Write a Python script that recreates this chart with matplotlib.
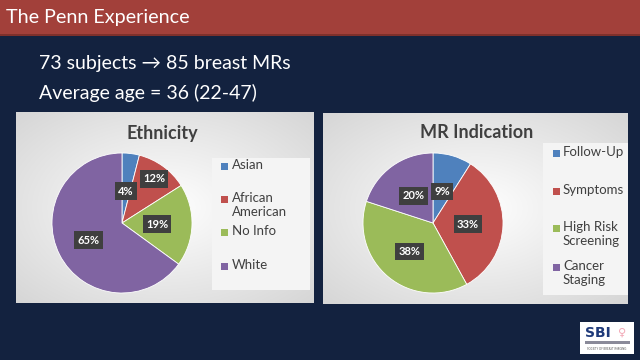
import numpy as np
import matplotlib
matplotlib.use("Agg")
import matplotlib.pyplot as plt
from matplotlib.patches import Rectangle

# ---- data ----
slide_title = "The Penn Experience"
bullet_lines = ["73 subjects \u2192 85 breast MRs", "Average age = 36 (22-47)"]

eth_title = "Ethnicity"
eth_labels = ["Asian", "African\nAmerican", "No Info", "White"]
eth_values = [4, 12, 19, 65]

mr_title = "MR Indication"
mr_labels = ["Follow-Up", "Symptoms", "High Risk\nScreening", "Cancer\nStaging"]
mr_values = [9, 33, 38, 20]

colors = ["#4F81BD", "#C0504D", "#9BBB59", "#8064A2"]
eth_label_dist = [0.46, 0.78, 0.5, 0.54]
mr_label_dist = [0.47, 0.5, 0.53, 0.48]

W, H = 640, 360
FONT = ["Lato", "DejaVu Sans"]
plt.rcParams["font.family"] = FONT

fig = plt.figure(figsize=(6.4, 3.6), dpi=100)
fig.patch.set_facecolor("#13223F")

bg = fig.add_axes([0, 0, 1, 1])
bg.set_xlim(0, W)
bg.set_ylim(H, 0)
bg.axis("off")

# header bar
bg.add_patch(Rectangle((0, 0), W, 35, facecolor="#A2403A", edgecolor="none"))
bg.add_patch(Rectangle((0, 34), W, 1.5, facecolor="#7E302B", edgecolor="none"))
bg.text(6, 18, slide_title, color="white", fontsize=14.2, va="center", ha="left")

bg.text(39, 63, bullet_lines[0], color="white", fontsize=14, va="center", ha="left")
bg.text(39, 93, bullet_lines[1], color="white", fontsize=14, va="center", ha="left")

# panel gradients
def panel(x0, y0, x1, y1):
    ny, nx = 60, 100
    yy, xx = np.mgrid[-1:1:ny*1j, -1:1:nx*1j]
    r = np.sqrt(xx**2 + yy**2) / np.sqrt(2)
    v = 1.0 - 0.16 * r
    img = np.dstack([v, v, v])
    bg.imshow(img, extent=(x0, x1, y1, y0), aspect="auto", zorder=1, interpolation="bilinear")

panel(16, 112, 314, 303)
panel(323, 113, 628, 304)
bg.set_xlim(0, W)
bg.set_ylim(H, 0)

# legend boxes
bg.add_patch(Rectangle((212, 158), 98, 132, facecolor="#F4F4F4", edgecolor="none", zorder=2))
bg.add_patch(Rectangle((543, 143), 85, 152, facecolor="#F4F4F4", edgecolor="none", zorder=2))

def draw_pie(cx, cy, r, values, dists, title, tx, ty):
    ax = fig.add_axes([(cx - r) / W, (H - cy - r) / H, 2 * r / W, 2 * r / H])
    ax.pie(values, colors=colors, startangle=90, counterclock=False,
           wedgeprops=dict(linewidth=0.6, edgecolor="white"))
    ax.set_xlim(-1, 1)
    ax.set_ylim(-1, 1)
    ax.set_aspect("equal")
    ax.axis("off")
    total = sum(values)
    start = 90.0
    for v, d in zip(values, dists):
        mid = np.deg2rad(start - v / total * 180.0)
        start -= v / total * 360.0
        ax.text(d * np.cos(mid), d * np.sin(mid), f"{v}%", color="white", fontsize=8,
                fontweight="bold", ha="center", va="center",
                bbox=dict(boxstyle="square,pad=0.3", facecolor="#3F3F3F", edgecolor="none"))
    bg.text(tx, ty, title, fontsize=13, fontweight="bold", color="#404040",
            ha="center", va="center", zorder=3)

draw_pie(122, 223, 70, eth_values, eth_label_dist, eth_title, 162, 133)
draw_pie(433, 223, 70, mr_values, mr_label_dist, mr_title, 477, 133)

def legend(xsq, xt, ys, labels):
    for y, lab, c in zip(ys, labels, colors):
        bg.add_patch(Rectangle((xsq - 3.5, y - 3.5), 7, 7, facecolor=c, edgecolor="none", zorder=3))
        bg.text(xt, y - 7, lab, fontsize=9.5, color="#404040", ha="left", va="top",
                linespacing=1.2, zorder=3)

legend(224, 232, [166, 199, 232, 266], eth_labels)
legend(556, 563, [153, 191, 228, 267], mr_labels)

# SBI logo
bg.add_patch(Rectangle((580, 322), 54, 32, facecolor="white", edgecolor="none", zorder=3))
bg.text(598, 333, "SBI", fontsize=10, fontweight="bold", color="#1F3A7A", ha="center", va="center",
        zorder=4, family=["DejaVu Sans"])
bg.text(622, 333, "\u2640", fontsize=8, color="#F2A7B5", ha="center", va="center", zorder=4,
        family=["DejaVu Sans"])
bg.add_patch(Rectangle((585, 341), 45, 3, facecolor="#8A8A99", edgecolor="none", zorder=4))
bg.text(607, 349, "SOCIETY OF BREAST IMAGING", fontsize=2, color="#555555", ha="center",
        va="center", zorder=4)

fig.savefig("out.png", dpi=100, facecolor=fig.get_facecolor())
